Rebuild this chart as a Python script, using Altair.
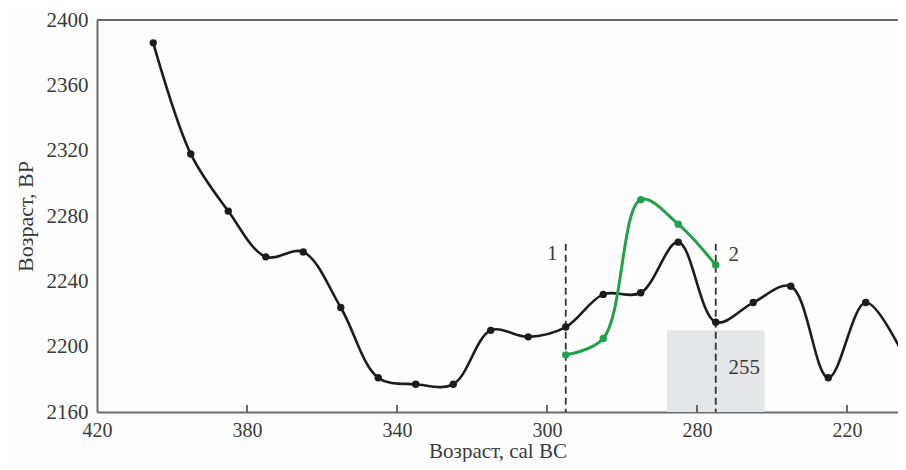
import altair as alt
import pandas as pd

# Black series (cal BC vs BP)
black_x = [405, 395, 385, 375, 365, 355, 345, 335, 325, 315, 305, 295, 285, 275, 265, 255, 245, 235, 225, 215, 205]
black_y = [2386, 2318, 2283, 2255, 2258, 2224, 2181, 2177, 2177, 2210, 2206, 2212, 2232, 2233, 2264, 2215, 2227, 2237, 2181, 2227, 2195]

# Green series
green_x = [295, 285, 275, 265, 255]
green_y = [2195, 2205, 2290, 2275, 2250]

# Dashed markers
marker_x = [295, 255]
marker_top = [2263, 2263]
marker_labels = ["1", "2"]
marker_label_x = [298.6, 250.2]
marker_label_y = [2257, 2256]

# Shaded interval
band_x = [268]
band_x2 = [242]
band_y = [2160]
band_y2 = [2210]
band_label = ["255"]
band_label_x = [247.4]
band_label_y = [2187]

x_ticks = [420, 380, 340, 300, 260, 220]
inner_ticks = [380, 340, 300, 260, 220]
y_ticks = [2160, 2200, 2240, 2280, 2320, 2360, 2400]

FONT = "Liberation Serif"
TXT = "#3a3a3a"
AX = "#6a6a6a"

black = pd.DataFrame({"x": black_x, "y": black_y})
green = pd.DataFrame({"x": green_x, "y": green_y})
markers = pd.DataFrame({"x": marker_x, "top": marker_top, "bottom": [2160, 2160],
                        "label": marker_labels, "lx": marker_label_x, "ly": marker_label_y})
band = pd.DataFrame({"x": band_x, "x2": band_x2, "y": band_y, "y2": band_y2,
                     "label": band_label, "lx": band_label_x, "ly": band_label_y})
ticks = pd.DataFrame({"x": inner_ticks})

xscale = alt.Scale(domain=[420, 206.4], nice=False, zero=False)
yscale = alt.Scale(domain=[2160, 2400], nice=False, zero=False)

xaxis = alt.Axis(values=x_ticks, title="Возраст, cal BC", grid=False, ticks=False, format="d",
                 labelExpr="datum.value == 260 ? '280' : format(datum.value, 'd')",
                 labelFont=FONT, labelFontSize=20, labelColor=TXT, labelPadding=8,
                 titleFont=FONT, titleFontSize=21, titleFontWeight="normal", titleColor=TXT,
                 titleBaseline="alphabetic", titleY=45,
                 domainColor=AX, domainWidth=2, labelFlush=False)
yaxis = alt.Axis(values=y_ticks, title="Возраст, BP", grid=False, ticks=False, format="d",
                 labelFont=FONT, labelFontSize=21, labelColor=TXT, labelPadding=9,
                 titleFont=FONT, titleFontSize=22, titleFontWeight="normal", titleColor=TXT,
                 titlePadding=9, domainColor=AX, domainWidth=2, labelFlush=False)

rect = alt.Chart(band).mark_rect(color="#e5e6e8").encode(
    x=alt.X("x:Q", scale=xscale, axis=xaxis), x2="x2:Q",
    y=alt.Y("y:Q", scale=yscale, axis=yaxis), y2="y2:Q")

band_text = alt.Chart(band).mark_text(font=FONT, fontSize=21, color=TXT).encode(
    x=alt.X("lx:Q", scale=xscale), y=alt.Y("ly:Q", scale=yscale), text="label:N")

dashes = alt.Chart(markers).mark_rule(color="#333333", strokeWidth=1.8, strokeDash=[7, 4]).encode(
    x=alt.X("x:Q", scale=xscale), y=alt.Y("top:Q", scale=yscale), y2="bottom:Q")

marker_text = alt.Chart(markers).mark_text(font=FONT, fontSize=21, color=TXT).encode(
    x=alt.X("lx:Q", scale=xscale), y=alt.Y("ly:Q", scale=yscale), text="label:N")

top_rule = alt.Chart(pd.DataFrame({"y": [2400]})).mark_rule(color=AX, strokeWidth=2).encode(
    y=alt.Y("y:Q", scale=yscale))

tick_rules = alt.Chart(ticks).mark_rule(color=AX, strokeWidth=2).encode(
    x=alt.X("x:Q", scale=xscale), y=alt.value(385), y2=alt.value(392))

black_line = alt.Chart(black).mark_line(color="#1c1c1c", strokeWidth=2.6, interpolate="catmull-rom").encode(
    x=alt.X("x:Q", scale=xscale), y=alt.Y("y:Q", scale=yscale))
black_pts = alt.Chart(black).mark_circle(color="#1c1c1c", size=55, opacity=1).encode(
    x=alt.X("x:Q", scale=xscale), y=alt.Y("y:Q", scale=yscale))

green_line = alt.Chart(green).mark_line(color="#22a04a", strokeWidth=3, interpolate="catmull-rom").encode(
    x=alt.X("x:Q", scale=xscale), y=alt.Y("y:Q", scale=yscale))
green_pts = alt.Chart(green).mark_circle(color="#22a04a", size=55, opacity=1).encode(
    x=alt.X("x:Q", scale=xscale), y=alt.Y("y:Q", scale=yscale))

chart = alt.layer(rect, band_text, dashes, marker_text, top_rule, tick_rules,
                  black_line, black_pts, green_line, green_pts).properties(
    width=801, height=392,
    autosize=alt.AutoSizeParams(type="none"),
    padding={"left": 89, "top": 12, "right": 0, "bottom": 50},
    background="#fdfdfd",
).configure(font=FONT).configure_axis(labelFont=FONT, titleFont=FONT).configure_view(stroke=None)

chart.save("out.html", embed_options={"renderer": "svg", "actions": False})
